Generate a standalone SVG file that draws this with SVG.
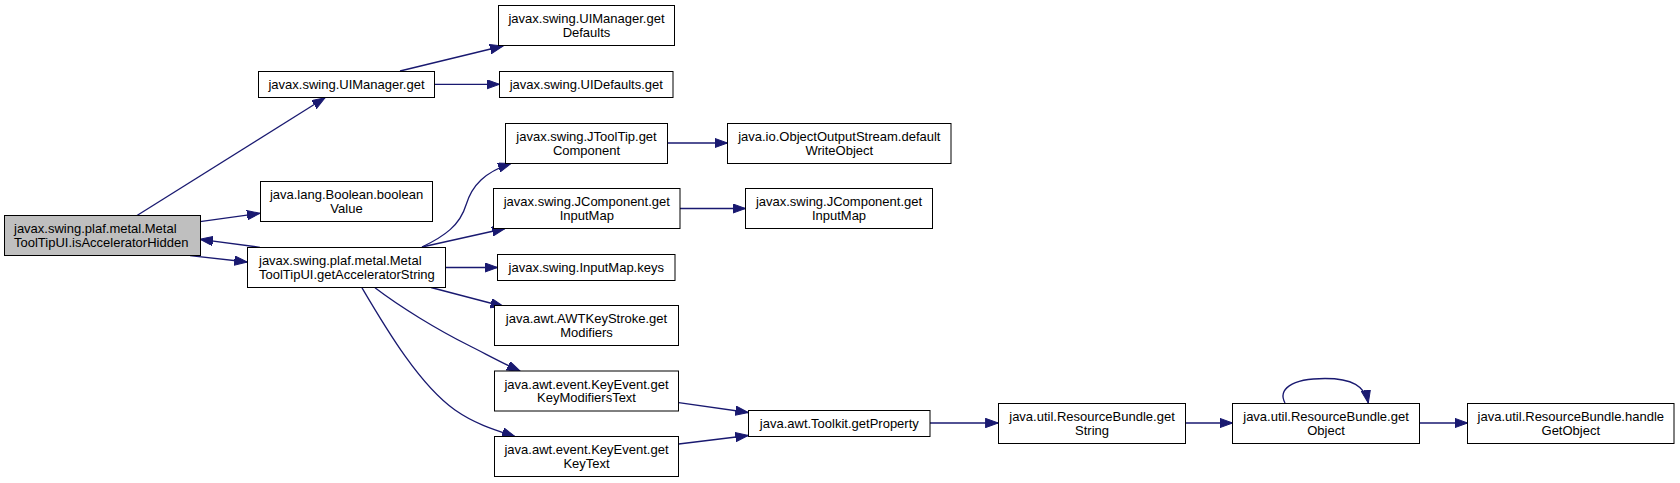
<svg xmlns="http://www.w3.org/2000/svg" width="1680" height="483" viewBox="0 0 1680 483">
<style>
.n rect{fill:#fff;stroke:#000;stroke-width:1}
.n.m rect{fill:#bfbfbf}
.n text{font-family:"Liberation Sans",Arial,sans-serif;font-size:13px;fill:#000;text-anchor:middle}
.n text.l{text-anchor:start}
#edges path{fill:none;stroke:#191970;stroke-width:1.3;marker-end:url(#ah)}
</style>
<defs>
<marker id="ah" markerUnits="userSpaceOnUse" markerWidth="14" markerHeight="10" refX="13" refY="4.7" orient="auto">
<path d="M0,0 L13,4.7 L0,9.4 z" fill="#191970" stroke="#191970" stroke-width="1"/>
</marker>
</defs>
<rect width="1680" height="483" fill="#fff"/>
<g id="edges">
<path d="M137,215.5 L325,97.7"/>
<path d="M200,221.7 L260,213.3"/>
<path d="M190,255.7 L247.3,262"/>
<path d="M260,247.3 L200,239.3"/>
<path d="M400,71 L503,46"/>
<path d="M434.5,84.3 L499.5,84.3"/>
<path d="M422,247 C445,236 460,225 466,205 C472,185 485,172 511,163.5"/>
<path d="M422,247 L505,228.5"/>
<path d="M445.5,267.5 L497.5,267.5"/>
<path d="M431,287.5 L503.5,306.5"/>
<path d="M375,287.8 C400,307 438,330 468,345 C486,354 502,363 520,371"/>
<path d="M362,287.8 C388,332 420,385 455,410 C475,424 495,430 515,436.5"/>
<path d="M667.5,143 L727.5,143"/>
<path d="M680,208.5 L745.5,208.5"/>
<path d="M678.7,402.7 L748.3,412.5"/>
<path d="M678.7,444 L748.3,435.5"/>
<path d="M930,423 L998.3,423"/>
<path d="M1185.3,423 L1232.7,423"/>
<path d="M1285,403 C1278,390 1290,378.5 1325,378.5 C1352,378.5 1365,386 1368.3,403"/>
<path d="M1419.7,423 L1467.7,423"/>
</g>
<g id="n_main" class="n m"><rect x="4.5" y="215.5" width="196" height="40"/><text class="l" x="14" y="233.3">javax.swing.plaf.metal.Metal</text><text class="l" x="14" y="246.5">ToolTipUI.isAcceleratorHidden</text></g>
<g id="n_uimanager_get" class="n"><rect x="258.5" y="71.5" width="176" height="26"/><text x="346.5" y="88.8">javax.swing.UIManager.get</text></g>
<g id="n_uimanager_getdefaults" class="n"><rect x="498.5" y="5.5" width="176" height="40"/><text x="586.5" y="23">javax.swing.UIManager.get</text><text x="586.5" y="36.5">Defaults</text></g>
<g id="n_uidefaults_get" class="n"><rect x="499.5" y="71.5" width="173.5" height="26"/><text x="586.3" y="88.8">javax.swing.UIDefaults.get</text></g>
<g id="n_boolean" class="n"><rect x="260.5" y="181.5" width="172" height="40"/><text x="346.5" y="199">java.lang.Boolean.boolean</text><text x="346.5" y="212.5">Value</text></g>
<g id="n_getacc" class="n"><rect x="247.5" y="247.5" width="198" height="40"/><text class="l" x="259" y="265.3">javax.swing.plaf.metal.Metal</text><text class="l" x="259" y="278.5">ToolTipUI.getAcceleratorString</text></g>
<g id="n_jtooltip" class="n"><rect x="505.5" y="123.5" width="162" height="40"/><text x="586.5" y="141">javax.swing.JToolTip.get</text><text x="586.5" y="154.5">Component</text></g>
<g id="n_oos" class="n"><rect x="727.5" y="123.5" width="223.5" height="40"/><text x="839.3" y="141">java.io.ObjectOutputStream.default</text><text x="839.3" y="154.5">WriteObject</text></g>
<g id="n_jcomp1" class="n"><rect x="493.5" y="188.5" width="186.5" height="40"/><text x="586.8" y="206">javax.swing.JComponent.get</text><text x="586.8" y="219.5">InputMap</text></g>
<g id="n_jcomp2" class="n"><rect x="745.5" y="188.5" width="187" height="40"/><text x="839" y="206">javax.swing.JComponent.get</text><text x="839" y="219.5">InputMap</text></g>
<g id="n_inputmap_keys" class="n"><rect x="497.5" y="254.5" width="177.5" height="26"/><text x="586.3" y="271.8">javax.swing.InputMap.keys</text></g>
<g id="n_awtkeystroke" class="n"><rect x="494.5" y="305.5" width="184" height="40"/><text x="586.5" y="323">java.awt.AWTKeyStroke.get</text><text x="586.5" y="336.5">Modifiers</text></g>
<g id="n_keymodtext" class="n"><rect x="494.5" y="371" width="184" height="40"/><text x="586.5" y="388.5">java.awt.event.KeyEvent.get</text><text x="586.5" y="402">KeyModifiersText</text></g>
<g id="n_keytext" class="n"><rect x="494.5" y="436.5" width="184" height="40"/><text x="586.5" y="454">java.awt.event.KeyEvent.get</text><text x="586.5" y="467.5">KeyText</text></g>
<g id="n_toolkit" class="n"><rect x="748.5" y="410.5" width="181.5" height="26"/><text x="839.3" y="427.8">java.awt.Toolkit.getProperty</text></g>
<g id="n_rb_getstring" class="n"><rect x="998.5" y="403.5" width="187" height="40"/><text x="1092" y="421">java.util.ResourceBundle.get</text><text x="1092" y="434.5">String</text></g>
<g id="n_rb_getobject" class="n"><rect x="1232.5" y="403.5" width="187" height="40"/><text x="1326" y="421">java.util.ResourceBundle.get</text><text x="1326" y="434.5">Object</text></g>
<g id="n_rb_handle" class="n"><rect x="1467.5" y="403.5" width="206.5" height="40"/><text x="1570.8" y="421">java.util.ResourceBundle.handle</text><text x="1570.8" y="434.5">GetObject</text></g>
</svg>
